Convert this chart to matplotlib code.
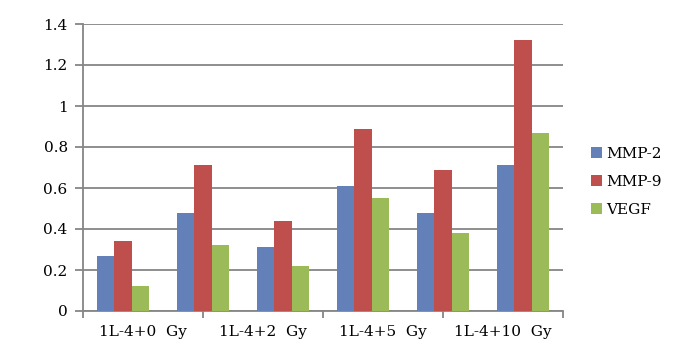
import matplotlib.pyplot as plt
import numpy as np

series = ['MMP-2', 'MMP-9', 'VEGF']
mmp2 = [0.27, 0.48, 0.31, 0.61, 0.48, 0.71]
mmp9 = [0.34, 0.71, 0.44, 0.89, 0.69, 1.32]
vegf = [0.12, 0.32, 0.22, 0.55, 0.38, 0.87]
xlabels = ['1L-4+0  Gy', '1L-4+2  Gy', '1L-4+5  Gy', '1L-4+10  Gy']
colors = ['#6480B8', '#BE4F4C', '#9BBB59']

plt.rcParams['font.family'] = ['DejaVu Serif']

fig = plt.figure(figsize=(7, 3.62), dpi=100)
ax = fig.add_axes([83/700, 1 - 311/362, 480/700, 287/362])

x = np.arange(len(mmp2)) + 0.5
w = 0.22
for i, (vals, name) in enumerate(zip([mmp2, mmp9, vegf], series)):
    ax.bar(x + (i - 1) * w, vals, w, color=colors[i], label=name, zorder=3)

ax.set_xlim(0, 6)
ax.set_ylim(0, 1.4)
ax.set_yticks(np.arange(0, 1.41, 0.2))
ax.set_yticklabels(['0', '0.2', '0.4', '0.6', '0.8', '1', '1.2', '1.4'], fontsize=11)
ax.yaxis.grid(True, color='#868686', lw=1.3, zorder=0)

ax.set_xticks([0, 1.5, 3, 4.5, 6])
ax.set_xticklabels([])
ax.set_xticks([0.75, 2.25, 3.75, 5.25], minor=True)
ax.set_xticklabels(xlabels, minor=True, fontsize=11)
ax.tick_params(axis='x', which='minor', length=0, pad=10)
ax.tick_params(axis='x', which='major', length=5, width=1.3, color='#868686')
ax.tick_params(axis='y', length=6, width=1.3, color='#868686', pad=5)

for side in ['top', 'right']:
    ax.spines[side].set_visible(False)
for side in ['left', 'bottom']:
    ax.spines[side].set_color('#868686')
    ax.spines[side].set_linewidth(1.3)

ax.legend(loc='center left', bbox_to_anchor=(1.03, 0.45), frameon=False,
          fontsize=11, handlelength=0.7, handleheight=0.7, labelspacing=0.9,
          handletextpad=0.3)

fig.savefig('out.png', dpi=100)
